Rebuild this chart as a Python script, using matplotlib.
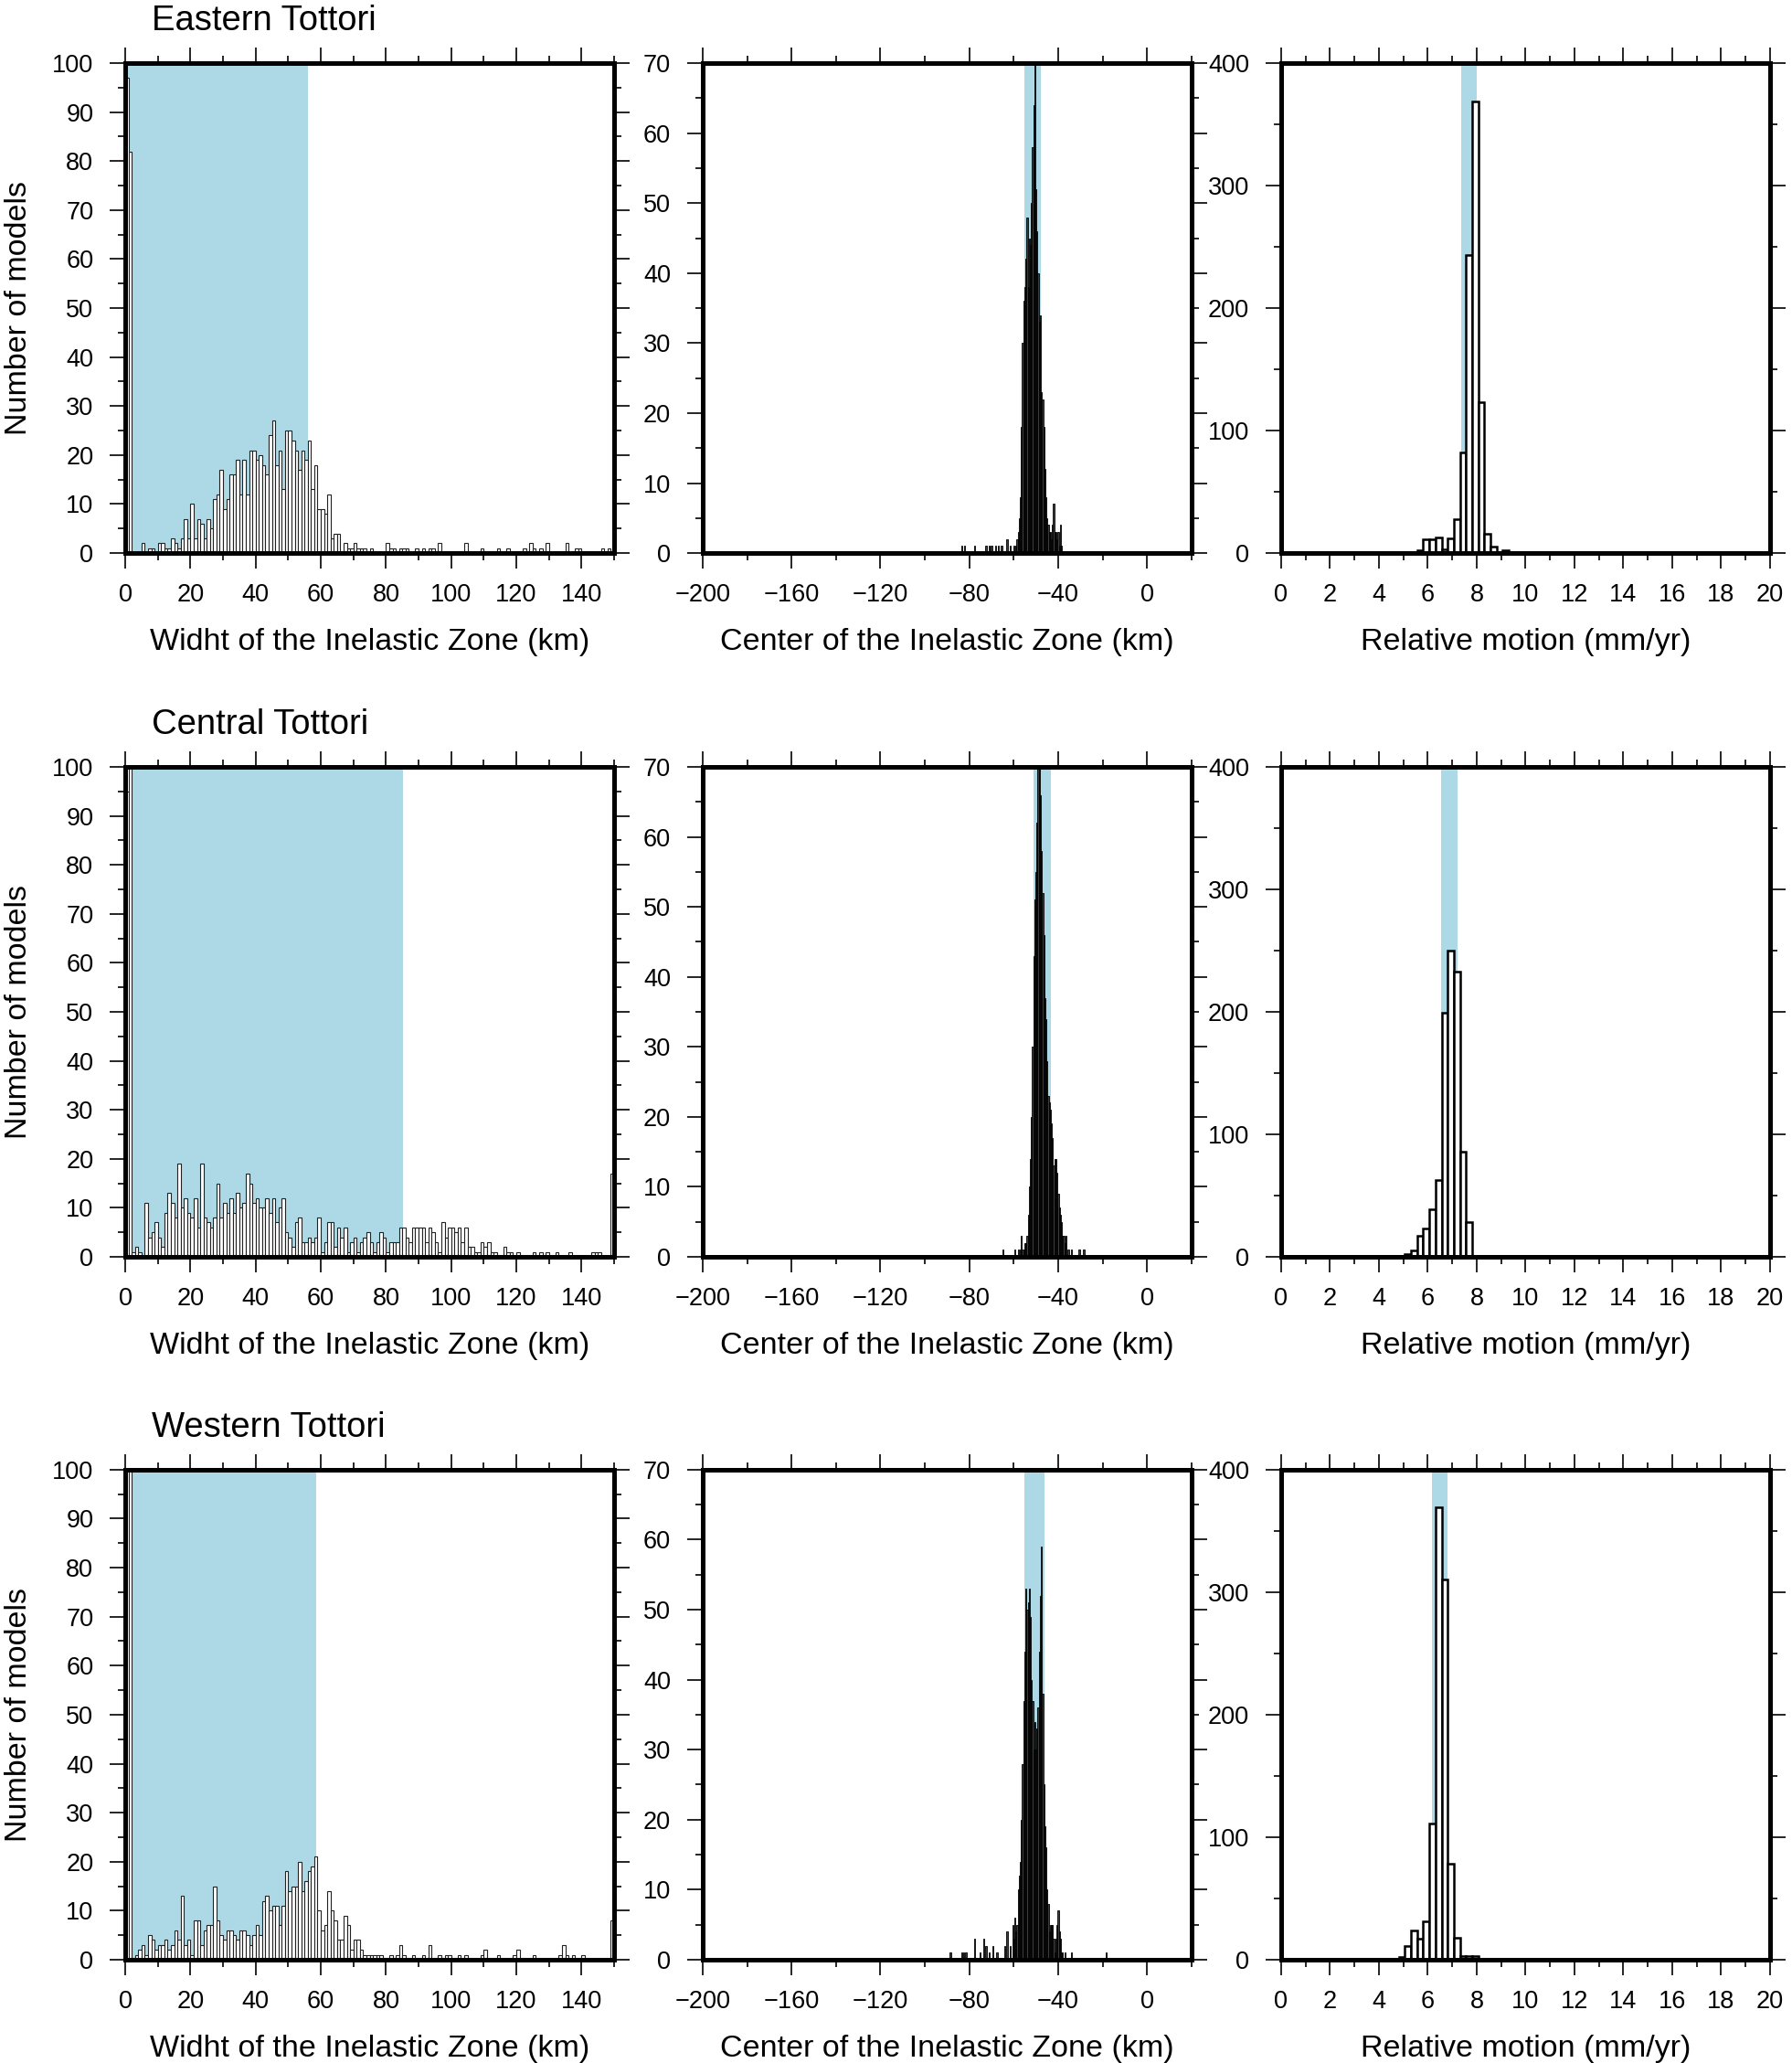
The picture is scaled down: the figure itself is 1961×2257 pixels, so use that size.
import numpy as np
import matplotlib.pyplot as plt
from matplotlib.ticker import MultipleLocator

plt.rcParams['font.family'] = ['Liberation Sans', 'DejaVu Sans']

regions = ['Eastern Tottori', 'Central Tottori', 'Western Tottori']

# Width of the inelastic zone, 1 km bins from 0 to 150 km (counts)
width_east = [97, 82, 0, 0, 0, 2, 0, 1, 1, 0,
              2, 2, 1, 1, 3, 2, 1, 3, 7, 3,
              10, 3, 7, 6, 3, 7, 5, 11, 12, 17,
              9, 11, 16, 16, 19, 12, 19, 12, 21, 21,
              19, 20, 18, 16, 24, 27, 18, 21, 13, 25,
              25, 23, 21, 17, 21, 19, 23, 13, 18, 9,
              9, 8, 12, 3, 4, 4, 0, 2, 1, 1,
              2, 1, 1, 1, 0, 1, 0, 0, 0, 0,
              2, 1, 1, 0, 1, 1, 1, 0, 0, 1,
              0, 1, 0, 1, 1, 0, 2, 0, 0, 0,
              0, 0, 0, 0, 2, 0, 0, 0, 0, 1,
              0, 0, 0, 0, 1, 0, 0, 1, 0, 0,
              0, 0, 1, 0, 2, 1, 0, 1, 0, 2,
              0, 0, 0, 0, 0, 2, 0, 0, 1, 1,
              0, 0, 0, 0, 0, 0, 1, 0, 1, 0]
width_central = [95, 130, 1, 2, 1, 0, 11, 4, 5, 7,
                 4, 2, 9, 13, 11, 8, 19, 10, 12, 9,
                 8, 12, 6, 19, 8, 7, 6, 8, 15, 8,
                 11, 9, 12, 9, 13, 10, 11, 17, 15, 11,
                 12, 10, 10, 12, 9, 12, 7, 10, 12, 5,
                 4, 2, 7, 8, 3, 3, 4, 3, 4, 8,
                 1, 3, 7, 7, 2, 6, 4, 6, 1, 3,
                 4, 1, 3, 4, 5, 3, 1, 3, 5, 4,
                 1, 3, 3, 3, 6, 6, 4, 3, 6, 6,
                 6, 6, 3, 6, 5, 3, 1, 7, 4, 6,
                 6, 5, 6, 3, 6, 2, 2, 1, 1, 3,
                 2, 3, 1, 1, 0, 0, 2, 1, 1, 0,
                 1, 0, 0, 0, 0, 1, 0, 1, 0, 1,
                 0, 0, 1, 0, 0, 0, 1, 0, 0, 0,
                 0, 0, 0, 1, 1, 1, 0, 0, 0, 17]
width_west = [130, 125, 0, 1, 2, 3, 1, 5, 4, 2,
              3, 3, 4, 2, 3, 6, 4, 13, 3, 4,
              1, 8, 8, 3, 6, 7, 7, 15, 8, 5,
              4, 6, 6, 5, 4, 6, 6, 5, 3, 5,
              7, 5, 12, 13, 10, 11, 11, 7, 11, 18,
              14, 15, 15, 20, 14, 16, 18, 19, 21, 10,
              6, 7, 14, 10, 8, 4, 4, 9, 7, 2,
              4, 4, 2, 1, 1, 1, 1, 1, 1, 0,
              0, 1, 0, 1, 3, 1, 0, 0, 1, 0,
              0, 1, 0, 3, 0, 0, 1, 0, 1, 1,
              0, 0, 1, 0, 1, 0, 0, 0, 0, 1,
              2, 0, 0, 0, 1, 0, 0, 0, 0, 1,
              2, 0, 0, 0, 0, 1, 0, 0, 0, 0,
              0, 0, 0, 1, 3, 1, 0, 1, 0, 0,
              1, 0, 0, 0, 0, 0, 0, 0, 0, 8]
width_centers = np.arange(150) + 0.5

# Center of the inelastic zone, 0.5 km bins
center_east_x = [-83.5, -82.0, -77.5, -72.5, -71.0, -70.0, -68.0, -67.0, -65.5, -63.0,
                 -61.5, -60.0, -59.0, -58.5, -58.0, -57.5, -57.0, -56.5, -56.0, -55.5,
                 -55.0, -54.5, -54.0, -53.5, -53.0, -52.5, -52.0, -51.5, -51.0, -50.5,
                 -50.0, -49.5, -49.0, -48.5, -48.0, -47.5, -47.0, -46.5, -46.0, -45.5,
                 -45.0, -44.5, -44.0, -43.5, -43.0, -42.5, -42.0, -41.5, -41.0, -40.5,
                 -40.0, -39.5, -39.0, -38.5]
center_east_n = [1, 1, 1, 1, 1, 1, 1, 1, 1, 2,
                 1, 1, 1, 2, 3, 5, 8, 18, 30, 36,
                 38, 42, 48, 38, 45, 44, 50, 58, 64, 75,
                 52, 46, 40, 33, 34, 23, 22, 18, 12, 8,
                 5, 4, 3, 3, 2, 4, 7, 3, 3, 2,
                 3, 1, 4, 1]
center_central_x = [-65.0, -59.5, -58.0, -57.0, -56.5, -56.0, -55.5, -55.0, -54.5, -54.0,
                    -53.5, -53.0, -52.5, -52.0, -51.5, -51.0, -50.5, -50.0, -49.5, -49.0,
                    -48.5, -48.0, -47.5, -47.0, -46.5, -46.0, -45.5, -45.0, -44.5, -44.0,
                    -43.5, -43.0, -42.5, -42.0, -41.5, -41.0, -40.5, -40.0, -39.5, -39.0,
                    -38.5, -38.0, -37.5, -37.0, -36.5, -35.5, -34.0, -30.5, -28.5]
center_central_n = [1, 1, 1, 1, 3, 1, 1, 2, 2, 3,
                    6, 10, 14, 20, 30, 43, 51, 55, 62, 75,
                    72, 66, 58, 52, 46, 37, 34, 28, 23, 22,
                    21, 19, 17, 13, 14, 14, 12, 9, 7, 6,
                    5, 3, 3, 2, 3, 1, 1, 1, 1]
center_west_x = [-88.5, -83.5, -82.5, -81.5, -77.5, -75.0, -73.5, -72.5, -71.0, -69.5,
                 -67.5, -64.0, -63.0, -61.5, -60.5, -60.0, -59.5, -59.0, -58.5, -58.0,
                 -57.5, -57.0, -56.5, -56.0, -55.5, -55.0, -54.5, -54.0, -53.5, -53.0,
                 -52.5, -52.0, -51.5, -51.0, -50.5, -50.0, -49.5, -49.0, -48.5, -48.0,
                 -47.5, -47.0, -46.5, -46.0, -45.5, -45.0, -44.5, -44.0, -43.5, -43.0,
                 -42.5, -42.0, -41.5, -41.0, -40.5, -40.0, -39.5, -39.0, -38.5, -38.0,
                 -37.0, -34.0, -18.5]
center_west_n = [1, 1, 1, 1, 3, 1, 3, 2, 1, 2,
                 1, 2, 4, 2, 5, 3, 6, 4, 5, 10,
                 12, 14, 20, 28, 37, 44, 53, 50, 51, 53,
                 49, 40, 37, 30, 34, 30, 33, 36, 44, 52,
                 59, 38, 25, 19, 16, 10, 8, 4, 5, 5,
                 5, 3, 1, 3, 5, 7, 4, 3, 1, 1,
                 1, 1, 1]

# Relative motion, 0.25 mm/yr bins
motion_east_x = [5.69, 5.94, 6.19, 6.44, 6.69, 6.94, 7.19, 7.44, 7.69, 7.94,
                 8.19, 8.44, 8.69, 8.94, 9.19, 9.44]
motion_east_n = [2, 11, 11, 13, 3, 12, 28, 82, 243, 369,
                 123, 16, 5, 1, 2, 1]
motion_central_x = [5.19, 5.44, 5.69, 5.94, 6.19, 6.44, 6.69, 6.94, 7.19, 7.44,
                    7.69, 7.94, 8.19]
motion_central_n = [2, 5, 17, 23, 39, 63, 199, 250, 233, 86,
                    28, 1, 1]
motion_west_x = [1.94, 4.94, 5.19, 5.44, 5.69, 5.94, 6.19, 6.44, 6.69, 6.94,
                 7.19, 7.44, 7.69, 7.94, 8.19, 8.94, 9.69]
motion_west_n = [1, 2, 11, 24, 17, 31, 111, 369, 310, 78,
                 18, 3, 3, 3, 1, 1, 1]

# shaded (preferred) ranges
width_band = [(0.0, 56.0), (1.3, 85.3), (1.5, 58.7)]
center_band = [(-55.0, -47.7), (-51.0, -43.3), (-55.3, -46.3)]
motion_band = [(7.36, 8.0), (6.54, 7.22), (6.18, 6.79)]

width_counts = [width_east, width_central, width_west]
center_data = [(center_east_x, center_east_n), (center_central_x, center_central_n),
               (center_west_x, center_west_n)]
motion_data = [(motion_east_x, motion_east_n), (motion_central_x, motion_central_n),
               (motion_west_x, motion_west_n)]

band_color = '#add8e6'

fig = plt.figure(figsize=(19.61, 22.57), dpi=100)
lefts = [0.0699, 0.3921, 0.7149]
bottoms = [0.7319, 0.3908, 0.0501]
w, h = 0.2728, 0.2375


def style(ax, xlim, ylim, xmaj, xmin, ymaj, ymin, xlabel):
    ax.set_xlim(xlim)
    ax.set_ylim(ylim)
    ax.xaxis.set_major_locator(MultipleLocator(xmaj))
    ax.xaxis.set_minor_locator(MultipleLocator(xmin))
    ax.yaxis.set_major_locator(MultipleLocator(ymaj))
    ax.yaxis.set_minor_locator(MultipleLocator(ymin))
    ax.tick_params(which='both', direction='out', top=True, right=True,
                   labeltop=False, labelright=False, width=1.2, labelsize=19.5)
    ax.tick_params(which='major', length=12)
    ax.tick_params(which='minor', length=6)
    ax.tick_params(axis='x', which='both', pad=12)
    ax.tick_params(axis='y', which='both', pad=13)
    for s in ax.spines.values():
        s.set_linewidth(3.6)
        s.set_zorder(5)
    ax.set_xlabel(xlabel, fontsize=24.5)
    ax.xaxis.set_label_coords(0.5, -0.153)


for r in range(3):
    # width panel
    ax = fig.add_axes([lefts[0], bottoms[r], w, h])
    ax.axvspan(*width_band[r], color=band_color, lw=0, zorder=0)
    cnt = np.array(width_counts[r])
    m = cnt > 0
    ax.bar(width_centers[m], cnt[m], width=1.0, facecolor='white',
           edgecolor='#222222', linewidth=0.8, zorder=2)
    style(ax, (0, 150), (0, 100), 20, 10, 10, 5,
          'Widht of the Inelastic Zone (km)')
    ax.set_ylabel('Number of models', fontsize=24.5)
    ax.yaxis.set_label_coords(-0.189, 0.5)
    ax.text(0.054, 1.067, regions[r], transform=ax.transAxes, fontsize=27.5,
            ha='left', va='baseline')

    # center panel
    ax = fig.add_axes([lefts[1], bottoms[r], w, h])
    ax.axvspan(*center_band[r], color=band_color, lw=0, zorder=0)
    cx, cn = center_data[r]
    ax.bar(cx, cn, width=0.5, facecolor='#3c3c3c', edgecolor='black',
           linewidth=0.6, zorder=2)
    style(ax, (-200, 20), (0, 70), 40, 20, 10, 5,
          'Center of the Inelastic Zone (km)')

    # relative motion panel
    ax = fig.add_axes([lefts[2], bottoms[r], w, h])
    ax.axvspan(*motion_band[r], color=band_color, lw=0, zorder=0)
    mx, mn = motion_data[r]
    ax.bar(mx, mn, width=0.25, facecolor='white', edgecolor='black',
           linewidth=1.8, zorder=2)
    style(ax, (0, 20), (0, 400), 2, 1, 100, 50,
          'Relative motion (mm/yr)')

fig.savefig('out.png', dpi=100)
